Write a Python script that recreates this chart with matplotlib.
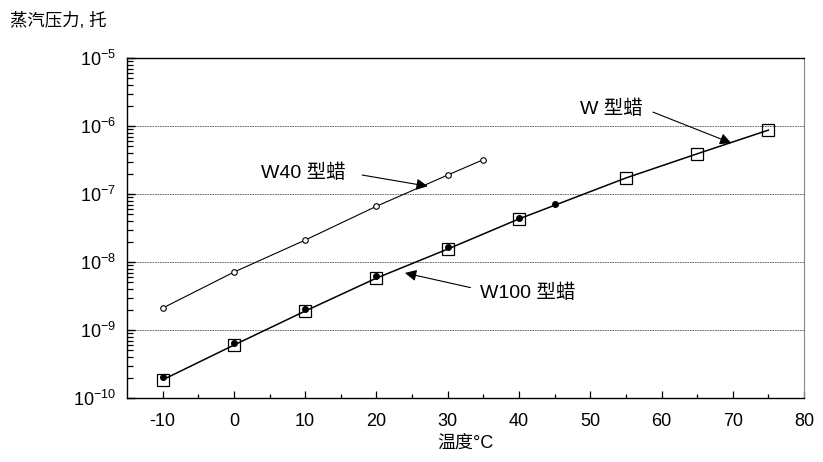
import matplotlib

matplotlib.use("Agg")

import matplotlib.pyplot as plt

# temperatures (°C) and vapour pressures (torr)
w40_temp = [-10, 0, 10, 20, 30, 35]
w40_pres = [2.1e-9, 7.1e-9, 2.1e-8, 6.6e-8, 1.9e-7, 3.2e-7]

w_temp = [-10, 0, 10, 20, 30, 40, 55, 65, 75]
w_pres = [1.85e-10, 6.0e-10, 1.9e-9, 5.8e-9, 1.55e-8, 4.3e-8, 1.72e-7, 3.9e-7, 8.7e-7]

w100_temp = [-10, 0, 10, 20, 30, 40, 45]
w100_pres = [2.05e-10, 6.4e-10, 2.05e-9, 6.3e-9, 1.65e-8, 4.5e-8, 7.1e-8]

x_ticks = [-10, 0, 10, 20, 30, 40, 50, 60, 70, 80]

# label text, text anchor, arrow tail, arrow tip (data units)
labels = [
    ("W40 型蜡", (3.8, 2.05e-7), (18.0, 1.9e-7), (27.2, 1.3e-7)),
    ("W 型蜡", (48.6, 1.78e-6), (58.8, 1.6e-6), (69.8, 5.6e-7)),
    ("W100 型蜡", (34.6, 3.5e-9), (33.2, 4.2e-9), (24.0, 6.9e-9)),
]

plt.rcParams["font.family"] = ["Liberation Sans", "Noto Sans CJK SC"]
plt.rcParams["mathtext.fontset"] = "custom"
plt.rcParams["mathtext.rm"] = "Liberation Sans"
plt.rcParams["mathtext.it"] = "Liberation Sans"
plt.rcParams["axes.unicode_minus"] = False

fig = plt.figure(figsize=(8.23, 4.62), dpi=100)
ax = fig.add_axes([0.1543, 0.1385, 0.8227, 0.736])

ax.plot(w40_temp, w40_pres, color="black", lw=0.8, marker="o", ms=4,
        mfc="white", mec="black", mew=0.8)
ax.plot(w_temp, w_pres, color="black", lw=1.1, marker="s", ms=9,
        mfc="none", mec="black", mew=0.9, zorder=3)
ax.plot(w100_temp, w100_pres, ls="none", marker="o", ms=4,
        mfc="black", mec="black", zorder=4)

ax.set_yscale("log")
ax.set_ylim(1e-10, 1e-5)
ax.set_xlim(-15, 80)
ax.set_xticks(x_ticks)
ax.set_xticks([t + 5 for t in x_ticks[:-1]], minor=True)

ax.yaxis.grid(True, which="major", linestyle=(0, (2, 1)), color="#555555", lw=0.6)
ax.set_axisbelow(True)

ax.tick_params(axis="both", which="both", direction="in", labelsize=13)
ax.tick_params(axis="y", which="major", length=6, width=1.0, pad=8)
ax.tick_params(axis="y", which="minor", length=4, width=0.9)
ax.tick_params(axis="x", which="major", length=5, width=0.9, pad=11)
ax.tick_params(axis="x", which="minor", length=3, width=0.9)

ax.spines["right"].set_color("#888888")
for side in ["left", "top", "bottom"]:
    ax.spines[side].set_linewidth(1.0)

for text, xy_text, xy_tail, xy_tip in labels:
    ax.annotate("", xy=xy_tip, xytext=xy_tail,
                arrowprops=dict(arrowstyle="-|>", color="black", lw=0.8,
                                mutation_scale=17, shrinkA=0, shrinkB=0))
    ax.text(xy_text[0], xy_text[1], text, fontsize=14, ha="left", va="center")

ax.set_xlabel("温度°C", fontsize=13, labelpad=3)
fig.text(0.012, 0.955, "蒸汽压力, 托", fontsize=12.5, ha="left", va="center")

fig.savefig("out.png", dpi=100, facecolor="white")
